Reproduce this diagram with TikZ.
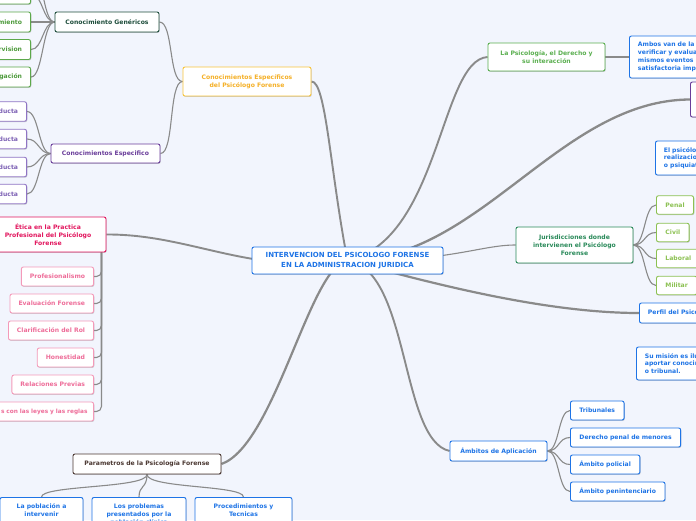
\documentclass[tikz,border=0pt]{standalone}
\usepackage{fontspec}
\setmainfont{DejaVu Sans}
\usetikzlibrary{shadows}
\definecolor{bgc}{HTML}{F2F5FD}
\definecolor{cblue}{HTML}{1E74E6}
\definecolor{corange}{HTML}{F8C43A}
\definecolor{corangetext}{HTML}{F5B027}
\definecolor{cdgreen}{HTML}{1E4D3B}
\definecolor{cgreen}{HTML}{5CA84A}
\definecolor{cgreentext}{HTML}{4E9B3C}
\definecolor{cpurple}{HTML}{6A3D9A}
\definecolor{cpurplek}{HTML}{8F74C4}
\definecolor{cpurpletext}{HTML}{7E62B5}
\definecolor{ccrimson}{HTML}{E2165E}
\definecolor{cpink}{HTML}{F49AB9}
\definecolor{cpinktext}{HTML}{EE6D99}
\definecolor{cbrown}{HTML}{4B3832}
\definecolor{cgreenb}{HTML}{5BAF50}
\definecolor{cdgreenb}{HTML}{2A8A5A}
\definecolor{clgreen}{HTML}{8CC152}
\definecolor{linec}{HTML}{8A8A8A}
\newcommand{\mmfs}{\fontsize{6.1}{7.8}\selectfont\bfseries}
\newcommand{\mmfsn}{\fontsize{5.8}{7.8}\selectfont\bfseries}
\newcommand{\mmfsc}{\fontsize{7}{9.5}\selectfont\bfseries}
\pgfdeclarelayer{back}
\pgfdeclarelayer{edges}
\pgfsetlayers{back,edges,main}
\begin{document}
\begin{tikzpicture}[x=1pt,y=-1pt,
  mbox/.style={draw=#1,text=#1,fill=white,rounded corners=2pt,line width=0.9pt,
    inner xsep=8.5pt,inner ysep=2pt,minimum height=19pt,align=center,font=\mmfs,
    drop shadow={shadow xshift=0.7pt,shadow yshift=-0.9pt,opacity=0.3,fill=black!60}},
  gkid/.style={mbox=cgreen,text=cgreentext,anchor=east,text width=60pt,align=right,minimum height=20pt},
  pkid/.style={mbox=cpurplek,text=cpurpletext,anchor=east,text width=60pt,align=right,minimum height=19.5pt},
  pinkkid/.style={mbox=cpink,text=cpinktext,anchor=east,minimum height=19pt},
  lgkid/.style={mbox=clgreen,anchor=west,inner xsep=9pt,minimum height=18.5pt},
  bkid/.style={mbox=cblue,anchor=west,inner xsep=9pt,minimum height=19pt},
  cutbox/.style={mbox=cblue,anchor=west,text width=120pt,align=left},
  link/.style={draw=linec,line width=1.1pt},
  mainlink/.style={draw=linec,line width=1.9pt},
]
\useasboundingbox (0,0) rectangle (696,520);
\begin{pgfonlayer}{back}
\fill[bgc] (0,0) rectangle (696,520);
\end{pgfonlayer}

% centre
\node[mbox=cblue,font=\mmfsc,minimum width=191pt,minimum height=27pt,inner xsep=4pt] (c) at (347.5,260.5) {INTERVENCION DEL PSICOLOGO FORENSE\\EN LA ADMINISTRACION JURIDICA};

% left upper
\node[mbox=corange,text=corangetext,minimum width=128pt,minimum height=29pt,inner xsep=4pt] (cesp) at (247,81.5) {Conocimientos Específicos\\del Psicólogo Forense};
\node[mbox=cdgreen,minimum width=104pt,minimum height=20pt,inner xsep=4pt] (cgen) at (107,22) {Conocimiento Genéricos};
\node[mbox=cpurple,minimum width=109pt,minimum height=19pt,inner xsep=4pt] (cespc) at (105.5,153.5) {Conocimientos Especifico};

\node[gkid] (g0) at (31,-6) {};
\coordinate (g00) at (31,-33);
\node[gkid] (g1) at (31,22) {miento};
\node[gkid] (g2) at (31,49.5) {rvision};
\node[gkid] (g3) at (31,77) {gación};

\node[pkid] (p1) at (27,111.5) {ducta};
\node[pkid] (p2) at (27,139) {ducta};
\node[pkid] (p3) at (27,167) {ducta};
\node[pkid] (p4) at (27,194) {ducta};

% ethics
\node[mbox=ccrimson,minimum width=116pt,minimum height=35pt,inner xsep=2pt] (eth) at (48,234.5) {Ética en la Practica\\Profesional del Psicólogo\\Forense};
\node[pinkkid] (k1) at (94,276.5) {Profesionalismo};
\node[pinkkid] (k2) at (94,303.5) {Evaluación Forense};
\node[pinkkid] (k3) at (94,330.5) {Clarificación del Rol};
\node[pinkkid] (k4) at (94,357.5) {Honestidad};
\node[pinkkid] (k5) at (94,384.5) {Relaciones Previas};
\node[pinkkid,text width=110pt,align=right,inner xsep=6pt,font=\mmfsn] (k6) at (94,411.5) {s con las leyes y las reglas};

% parametros
\node[mbox=cbrown,minimum width=148pt,minimum height=20pt,inner xsep=4pt] (par) at (147,464) {Parametros de la Psicología Forense};
\node[mbox=cblue,anchor=north,minimum width=83pt,inner xsep=2pt,inner ysep=6.5pt] (pk1) at (41.5,497) {La población a\\intervenir};
\node[mbox=cblue,anchor=north,minimum width=94pt,inner xsep=2pt,inner ysep=6.5pt] (pk2) at (139,497) {Los problemas\\presentados por la\\población clínica};
\node[mbox=cblue,anchor=north,minimum width=97pt,inner xsep=2pt,inner ysep=6.5pt] (pk3) at (243.5,497) {Procedimientos y\\Tecnicas};

% right
\node[mbox=cgreenb,minimum width=117pt,minimum height=28pt,inner xsep=3pt] (lap) at (546.5,57) {La Psicología, el Derecho y\\su interacción};
\node[cutbox,minimum height=42pt] (amb) at (629,57) {Ambos van de la m\\verificar y evaluar\\mismos eventos p\\satisfactoria impa};
\node[mbox=cpurple,anchor=west,minimum width=60pt,minimum height=35pt] (rp) at (690,99.5) {};
\node[cutbox,minimum height=34pt] (elp) at (655,158) {El psicólog\\realizacio\\o psiquiat};

\node[mbox=cdgreenb,minimum width=117pt,minimum height=36pt,inner xsep=3pt] (jur) at (574.5,245) {Jurisdicciones donde\\intervienen el Psicólogo\\Forense};
\node[lgkid] (pen) at (656,205) {Penal};
\node[lgkid] (civ) at (656,232.5) {Civil};
\node[lgkid] (lab) at (656,258.5) {Laboral};
\node[lgkid] (mil) at (656,285.5) {Militar};

\node[mbox=cblue,anchor=west,minimum height=20pt] (per) at (639,313) {Perfil del Psicólogo Forense};
\node[cutbox,minimum height=33pt] (mis) at (636,363.5) {Su misión es ilu\\aportar conocim\\o tribunal.};

\node[mbox=cblue,minimum width=97pt,minimum height=20pt,inner xsep=3pt] (amb2) at (498.5,451) {Ámbitos de Aplicación};
\node[bkid] (t1) at (570,410.5) {Tribunales};
\node[bkid] (t2) at (570,437.5) {Derecho penal de menores};
\node[bkid] (t3) at (570,464.5) {Ámbito policial};
\node[bkid] (t4) at (570,491.5) {Ámbito penintenciario};

\begin{pgfonlayer}{edges}
% main branches
\draw[mainlink] (c.center) .. controls (330,170) and (326,81) .. (cesp.east);
\draw[mainlink] (c.center) .. controls (440,240) and (440,60) .. (lap.west);
\draw[mainlink,line width=2.3pt] (c.center) .. controls (480,260) and (560,100) .. (rp.west);
\draw[link] (c.center) .. controls (450,262) and (480,245) .. (jur.west);
\draw[mainlink,line width=2.2pt] (c.center) .. controls (420,280) and (540,313) .. (per.west);
\draw[mainlink] (c.center) .. controls (410,270) and (400,440) .. (amb2.west);
\draw[mainlink,line width=2.2pt] (c.center) .. controls (310,265) and (275,445) .. (par.east);
\draw[mainlink] (c.center) .. controls (250,275) and (190,234) .. (eth.east);
% left sub branches
\draw[link] (cesp.west) .. controls +(-14,0) and +(14,0) .. (cgen.east);
\draw[link] (cesp.west) .. controls +(-14,0) and +(14,0) .. (cespc.east);
\foreach \k in {g00,g0,g1,g2,g3}
  \draw[link] (cgen.west) .. controls +(-12,0) and +(12,0) .. (\k.east);
\foreach \k in {p1,p2,p3,p4}
  \draw[link] (cespc.west) .. controls +(-12,0) and +(12,0) .. (\k.east);
\foreach \k in {k1,k2,k3,k4,k5,k6}
  \draw[link,rounded corners=5pt] ([xshift=-5pt]eth.south east) |- (\k.east);
\foreach \k in {pk1,pk2,pk3}
  \draw[link] (par.south) .. controls +(0,14) and +(0,-12) .. (\k.north);
% right sub branches
\draw[link] (lap.east) -- (amb.west);
\foreach \k in {pen,civ,lab,mil}
  \draw[link] (jur.east) .. controls +(12,0) and +(-12,0) .. (\k.west);
\foreach \k in {t1,t2,t3,t4}
  \draw[link] (amb2.east) .. controls +(12,0) and +(-12,0) .. (\k.west);
\end{pgfonlayer}
\end{tikzpicture}
\end{document}
